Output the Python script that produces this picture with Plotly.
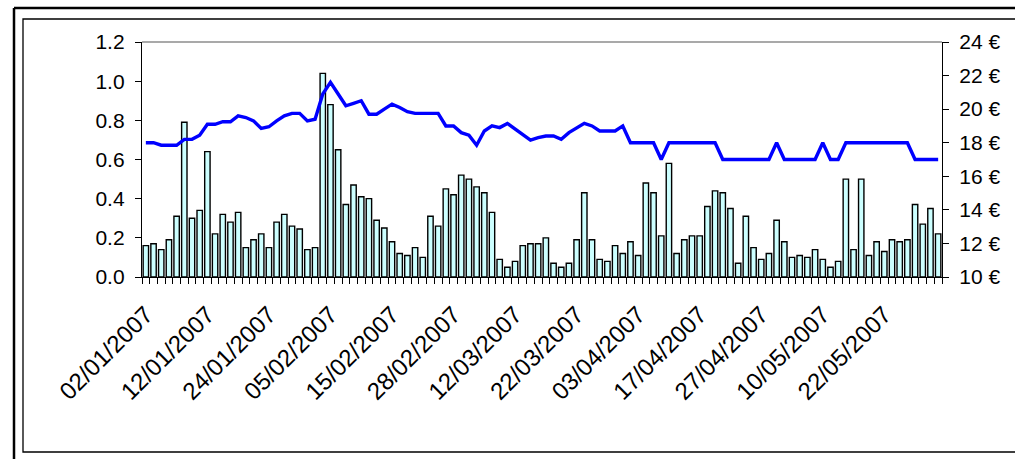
import pandas as pd
import plotly.graph_objects as go

# Trading days, Jan-May 2007 (market closures and one missing session removed)
closed_days = ["2007-02-19", "2007-04-06", "2007-04-09", "2007-05-01"]
dates = [d.strftime("%d/%m/%Y") for d in pd.bdate_range("2007-01-02", "2007-05-31")
         if d.strftime("%Y-%m-%d") not in closed_days]

# Daily traded volume (left axis)
volume = [
    0.16, 0.17, 0.14, 0.19, 0.31, 0.79, 0.30, 0.34, 0.64, 0.22,
    0.32, 0.28, 0.33, 0.15, 0.19, 0.22, 0.15, 0.28, 0.32, 0.26,
    0.245, 0.14, 0.15, 1.04, 0.88, 0.65, 0.37, 0.47, 0.41, 0.40,
    0.29, 0.25, 0.18, 0.12, 0.11, 0.15, 0.10, 0.31, 0.26, 0.45,
    0.42, 0.52, 0.50, 0.46, 0.43, 0.33, 0.09, 0.05, 0.08, 0.16,
    0.17, 0.17, 0.20, 0.07, 0.05, 0.07, 0.19, 0.43, 0.19, 0.09,
    0.08, 0.16, 0.12, 0.18, 0.11, 0.48, 0.43, 0.21, 0.58, 0.12,
    0.19, 0.21, 0.21, 0.36, 0.44, 0.43, 0.35, 0.07, 0.31, 0.15,
    0.09, 0.12, 0.29, 0.18, 0.10, 0.11, 0.10, 0.14, 0.09, 0.05,
    0.08, 0.50, 0.14, 0.50, 0.11, 0.18, 0.13, 0.19, 0.18, 0.19,
    0.37, 0.27, 0.35, 0.22,
]

# Closing price in euros (right axis)
price = [
    18.0, 18.0, 17.85, 17.85, 17.85, 18.2, 18.2, 18.45, 19.1, 19.1,
    19.25, 19.25, 19.6, 19.5, 19.3, 18.85, 18.95, 19.3, 19.6, 19.75,
    19.75, 19.3, 19.4, 20.9, 21.6, 20.9, 20.2, 20.35, 20.5, 19.7,
    19.7, 20.0, 20.3, 20.1, 19.85, 19.75, 19.75, 19.75, 19.75, 19.0,
    19.0, 18.6, 18.45, 17.85, 18.7, 19.0, 18.9, 19.15, 18.8, 18.5,
    18.15, 18.3, 18.4, 18.4, 18.2, 18.6, 18.9, 19.15, 19.0, 18.7,
    18.7, 18.7, 19.0, 18.0, 18.0, 18.0, 18.0, 17.0, 18.0, 18.0,
    18.0, 18.0, 18.0, 18.0, 18.0, 17.0, 17.0, 17.0, 17.0, 17.0,
    17.0, 17.0, 18.0, 17.0, 17.0, 17.0, 17.0, 17.0, 18.0, 17.0,
    17.0, 18.0, 18.0, 18.0, 18.0, 18.0, 18.0, 18.0, 18.0, 18.0,
    17.0, 17.0, 17.0, 17.0,
]

volume_ticks = [0.0, 0.2, 0.4, 0.6, 0.8, 1.0, 1.2]
price_ticks = [10, 12, 14, 16, 18, 20, 22, 24]
label_step = 8

W, H = 1015, 459
L, R, T, B = 142, 73, 42, 182
pw, ph = W - L - R, H - T - B


def px(x):
    return (x - L) / pw


def py(y):
    return 1 - (y - T) / ph


idx = list(range(len(dates)))
FONT = "Liberation Sans, Arial, sans-serif"

fig = go.Figure()
fig.add_trace(go.Bar(
    x=idx, y=volume, yaxis="y",
    marker=dict(color="#CCFFFF", line=dict(color="black", width=1.4)),
    customdata=dates, hovertemplate="%{customdata}: %{y}<extra></extra>",
))
fig.add_trace(go.Scatter(
    x=idx, y=price, yaxis="y2", mode="lines",
    line=dict(color="#0000FF", width=3.4),
    customdata=dates, hovertemplate="%{customdata}: %{y} €<extra></extra>",
))

shapes = [
    # grey top border of the plot area
    dict(type="line", xref="paper", yref="paper", x0=0, x1=1, y0=1, y1=1,
         line=dict(color="#8C8C8C", width=1.5), layer="below"),
    # inner frame
    dict(type="rect", xref="paper", yref="paper",
         x0=px(23), x1=px(1030), y0=py(19), y1=py(452),
         line=dict(color="black", width=1.3)),
    # outer frame (left and top edges)
    dict(type="line", xref="paper", yref="paper",
         x0=px(14), x1=px(14), y0=py(8), y1=py(470),
         line=dict(color="black", width=2.5)),
    dict(type="line", xref="paper", yref="paper",
         x0=px(14), x1=px(1030), y0=py(8), y1=py(8),
         line=dict(color="black", width=2.5)),
]

fig.update_layout(
    width=W, height=H,
    margin=dict(l=L, r=R, t=T, b=B),
    paper_bgcolor="white", plot_bgcolor="white",
    showlegend=False,
    bargap=0.3,
    font=dict(family=FONT, color="black", size=20),
    shapes=shapes,
    xaxis=dict(
        range=[-0.5, len(dates) - 0.5],
        tickmode="array",
        tickvals=idx[::label_step],
        ticktext=dates[::label_step],
        tickangle=-45,
        ticks="",
        ticklabelstandoff=13,
        tickfont=dict(size=24),
        showgrid=False, zeroline=False,
        showline=True, linecolor="black", linewidth=1.3,
        minor=dict(tickmode="linear", tick0=-0.5, dtick=1,
                   ticks="outside", ticklen=6, tickcolor="black", tickwidth=1),
    ),
    yaxis=dict(
        range=[0, 1.2],
        tickvals=volume_ticks,
        ticktext=[f"{v:.1f}" for v in volume_ticks],
        ticks="outside", ticklen=6, tickcolor="black",
        showgrid=False, zeroline=False,
        showline=True, linecolor="black", linewidth=1.3,
        tickfont=dict(size=21),
        ticklabelstandoff=6,
    ),
    yaxis2=dict(
        range=[10, 24],
        overlaying="y", side="right",
        tickvals=price_ticks,
        ticktext=[f"{v} €" for v in price_ticks],
        ticks="outside", ticklen=6, tickcolor="black",
        showgrid=False, zeroline=False,
        showline=True, linecolor="black", linewidth=1.3,
        tickfont=dict(size=21),
        ticklabelstandoff=6,
    ),
)

fig.write_html("out.html")
